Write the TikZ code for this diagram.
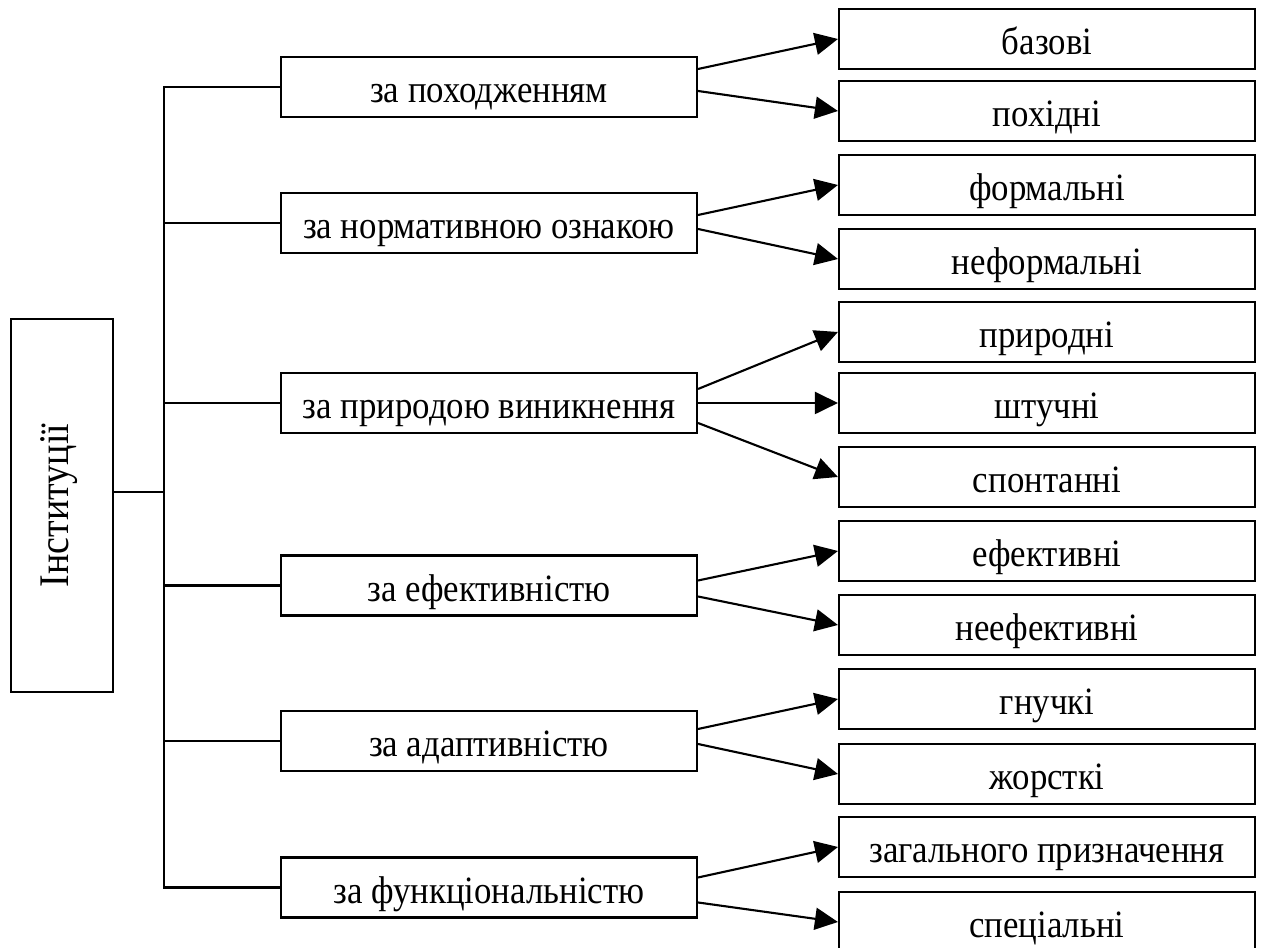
\documentclass[tikz,border=0pt]{standalone}
\usepackage{fontspec}
\setmainfont[FakeStretch=0.9]{Liberation Serif}
\usetikzlibrary{positioning,calc,arrows.meta}

\begin{document}
\begin{tikzpicture}[line width=0.6pt]
        \tikzstyle{box}=[draw, rectangle, inner sep=0pt, minimum width=4.16cm, minimum height=0.6cm, text height=0.32cm, text depth=0pt, font=\fontsize{11}{13}\selectfont]
        \tikzstyle{arr}=[-{Triangle[length=0.23cm,width=0.22cm]}]

        \useasboundingbox (0,0) rectangle (12.63,-9.48);

        \node[draw, rotate=90, inner sep=0pt, minimum width=3.73cm, minimum height=1.02cm, text height=0.2cm, text depth=0.08cm, font=\fontsize{12}{14}\selectfont] (inst) at (0.62,-5.055) {Інституції};

        \node[box] (orig) at (4.89,-0.87)  {за походженням};
        \node[box] (norm) at (4.89,-2.23)  {за нормативною ознакою};
        \node[box] (nat)  at (4.89,-4.03)  {за природою виникнення};
        \node[box] (eff)  at (4.89,-5.855) {за ефективністю};
        \node[box] (adap) at (4.89,-7.41)  {за адаптивністю};
        \node[box] (func) at (4.89,-8.875) {за функціональністю};

        \node[box] (base)    at (10.47,-0.39) {базові};
        \node[box] (deriv)   at (10.47,-1.11) {похідні};
        \node[box] (formal)  at (10.47,-1.85) {формальні};
        \node[box] (inform)  at (10.47,-2.59) {неформальні};
        \node[box] (natur)   at (10.47,-3.32) {природні};
        \node[box] (artif)   at (10.47,-4.03) {штучні};
        \node[box] (spont)   at (10.47,-4.77) {спонтанні};
        \node[box] (effic)   at (10.47,-5.51) {ефективні};
        \node[box] (ineff)   at (10.47,-6.25) {неефективні};
        \node[box] (flex)    at (10.47,-6.99) {гнучкі};
        \node[box] (rigid)   at (10.47,-7.74) {жорсткі};
        \node[box] (general) at (10.47,-8.47) {загального призначення};
        \node[box] (special) at (10.47,-9.22) {спеціальні};

        % trunk
        \coordinate (t) at (1.64,-4.92);
        \draw (inst.south |- t) -- (t);
        \draw (orig.west) -- (orig.west -| t) -- (func.west -| t) -- (func.west);
        \draw (norm.west) -- (norm.west -| t);
        \draw (nat.west) -- (nat.west -| t);
        \draw (eff.west) -- (eff.west -| t);
        \draw (adap.west) -- (adap.west -| t);

        % arrows
        \draw[arr] ([yshift=0.18cm]orig.east) -- (base.west);
        \draw[arr] ([yshift=-0.04cm]orig.east) -- (deriv.west);
        \draw[arr] ([yshift=0.08cm]norm.east) -- (formal.west);
        \draw[arr] ([yshift=-0.06cm]norm.east) -- (inform.west);
        \draw[arr] ([yshift=0.14cm]nat.east) -- (natur.west);
        \draw[arr] (nat.east) -- (artif.west);
        \draw[arr] ([yshift=-0.2cm]nat.east) -- (spont.west);
        \draw[arr] ([yshift=0.05cm]eff.east) -- (effic.west);
        \draw[arr] ([yshift=-0.11cm]eff.east) -- (ineff.west);
        \draw[arr] ([yshift=0.12cm]adap.east) -- (flex.west);
        \draw[arr] ([yshift=-0.03cm]adap.east) -- (rigid.west);
        \draw[arr] ([yshift=0.1cm]func.east) -- (general.west);
        \draw[arr] ([yshift=-0.15cm]func.east) -- (special.west);

    \end{tikzpicture}
\end{document}
